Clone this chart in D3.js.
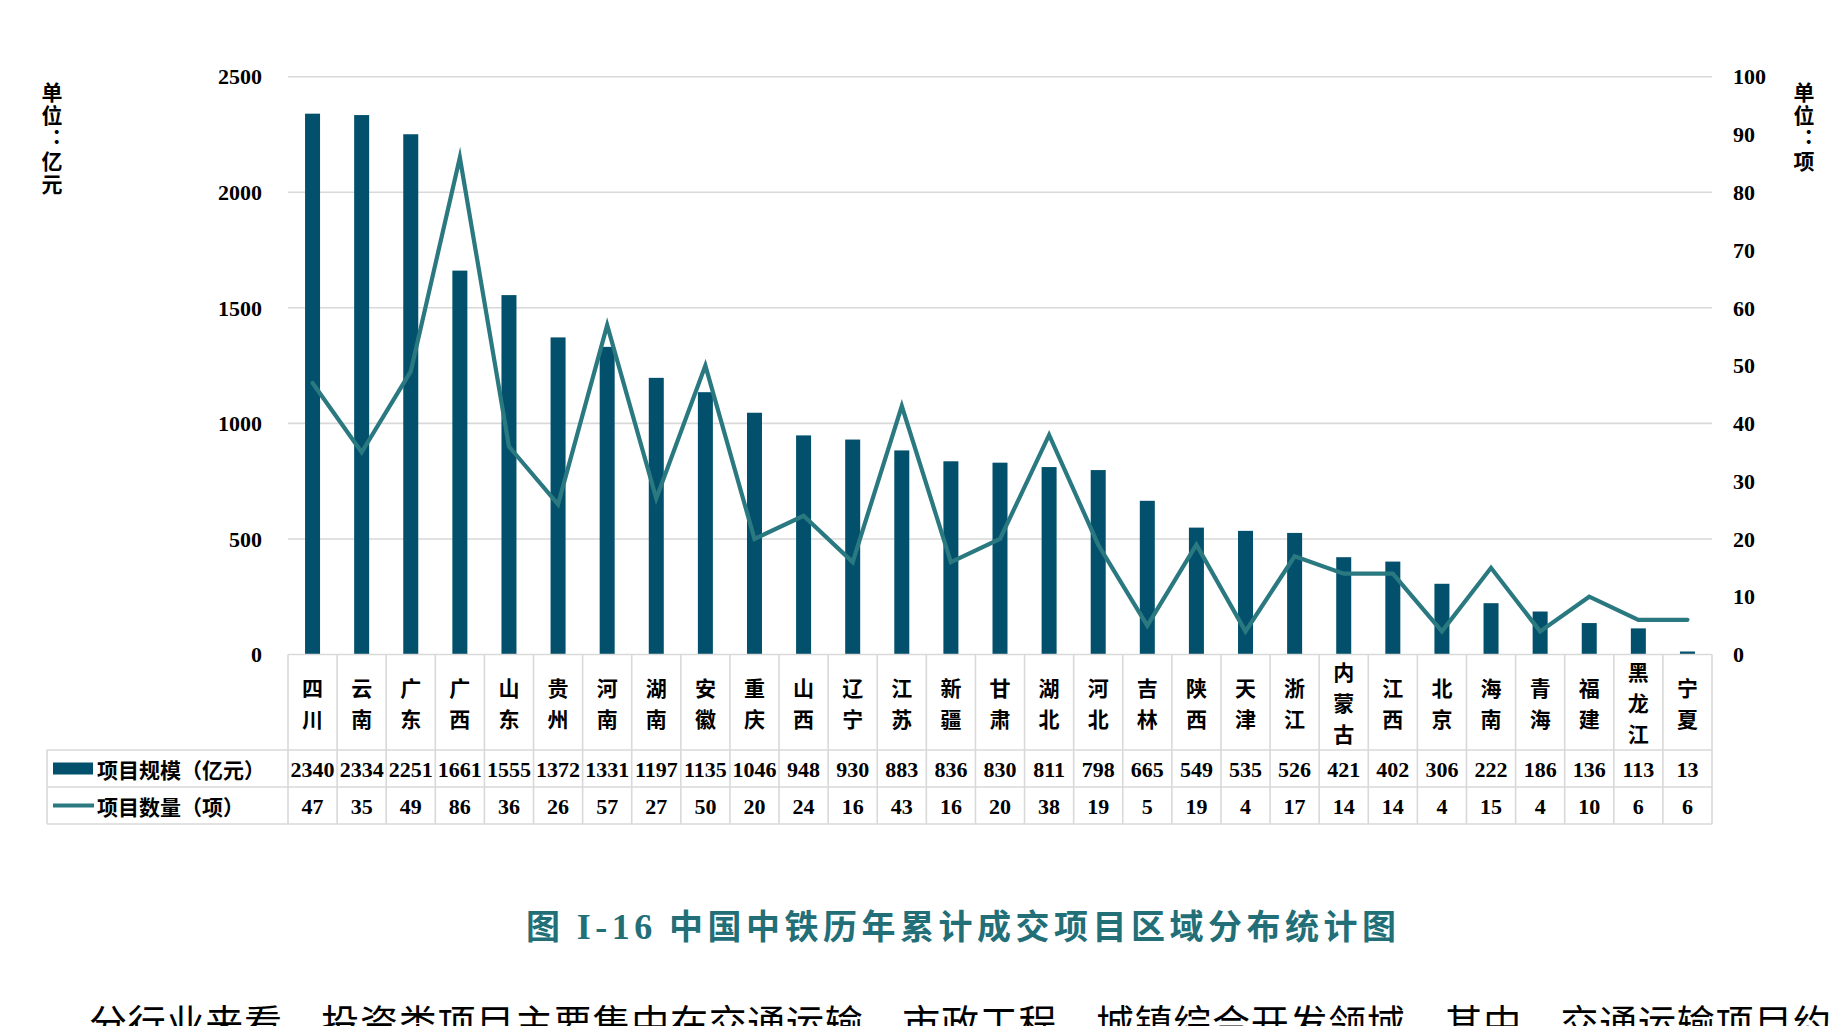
<!DOCTYPE html>
<html>
<head>
<meta charset="utf-8">
<script src="https://cdn.jsdelivr.net/npm/d3@7/dist/d3.min.js"></script>
<style>
  html, body { margin: 0; padding: 0; background: #fff; }
  svg { display: block; }
</style>
</head>
<body>
<svg id="chart" width="1846" height="1026"></svg>
<script>
const categories = ["四川","云南","广东","广西","山东","贵州","河南","湖南","安徽","重庆","山西","辽宁","江苏","新疆","甘肃","湖北","河北","吉林","陕西","天津","浙江","内蒙古","江西","北京","海南","青海","福建","黑龙江","宁夏"];
const scaleValues = [2340,2334,2251,1661,1555,1372,1331,1197,1135,1046,948,930,883,836,830,811,798,665,549,535,526,421,402,306,222,186,136,113,13];
const countValues = [47,35,49,86,36,26,57,27,50,20,24,16,43,16,20,38,19,5,19,4,17,14,14,4,15,4,10,6,6];
const leftTicks = [0,500,1000,1500,2000,2500];
const rightTicks = [0,10,20,30,40,50,60,70,80,90,100];
const seriesNames = ["项目规模（亿元）","项目数量（项）"];
const leftUnit = "单位：亿元";
const rightUnit = "单位：项";
const titleParts = ["图 ", "I-16", " 中国中铁历年累计成交项目区域分布统计图"];
const bodyText = "分行业来看，投资类项目主要集中在交通运输、市政工程、城镇综合开发领域，其中，交通运输项目约";

const barColor = "#02506c";
const lineColor = "#2a7980";
const gridColor = "#d9d9d9";
const cjk = "'Noto Sans CJK SC', sans-serif";
const serif = "'Liberation Serif', 'Times New Roman', serif";

const svg = d3.select("#chart");
const X0 = 288, X1 = 1712, Y0 = 654.5, Y1 = 76.7;

const x = d3.scaleBand().domain(categories).range([X0, X1]).paddingInner(0).paddingOuter(0);
const yL = d3.scaleLinear().domain([0, 2500]).range([Y0, Y1]);
const yR = d3.scaleLinear().domain([0, 100]).range([Y0, Y1]);

// gridlines
svg.append("g").selectAll("line").data(leftTicks.filter(d => d > 0)).join("line")
  .attr("x1", X0).attr("x2", X1)
  .attr("y1", d => yL(d)).attr("y2", d => yL(d))
  .attr("stroke", gridColor).attr("stroke-width", 1.6);

// left axis
const axL = d3.axisLeft(yL).tickValues(leftTicks).tickFormat(d3.format("d")).tickSize(0).tickPadding(0);
const gL = svg.append("g").attr("transform", `translate(262,0)`).call(axL);
gL.select(".domain").remove();
gL.selectAll("text").attr("font-family", serif).attr("font-weight", "bold")
  .attr("font-size", 22).attr("fill", "#000").attr("dy", "0.33em");

// right axis
const axR = d3.axisRight(yR).tickValues(rightTicks).tickFormat(d3.format("d")).tickSize(0).tickPadding(0);
const gR = svg.append("g").attr("transform", `translate(1733,0)`).call(axR);
gR.select(".domain").remove();
gR.selectAll("text").attr("font-family", serif).attr("font-weight", "bold")
  .attr("font-size", 22).attr("fill", "#000").attr("dy", "0.33em");

// unit labels (vertical)
function verticalText(str, cx, y0) {
  svg.append("text").attr("x", cx).attr("y", y0)
    .style("writing-mode", "vertical-rl")
    .attr("font-family", cjk).attr("font-weight", "bold").attr("font-size", 21)
    .attr("letter-spacing", 2)
    .attr("fill", "#000").text(str);
}
verticalText(leftUnit, 52, 82);
verticalText(rightUnit, 1804, 82);

// bars
const bw = 15;
svg.append("g").selectAll("rect").data(categories).join("rect")
  .attr("x", (d) => x(d) + x.bandwidth() / 2 - bw / 2)
  .attr("width", bw)
  .attr("y", (d, i) => yL(scaleValues[i]))
  .attr("height", (d, i) => Y0 - yL(scaleValues[i]))
  .attr("fill", barColor);

// line
const line = d3.line().x((d, i) => x(categories[i]) + x.bandwidth() / 2).y(d => yR(d));
svg.append("path").datum(countValues).attr("d", line)
  .attr("fill", "none").attr("stroke", lineColor).attr("stroke-width", 4.2)
  .attr("stroke-linejoin", "miter").attr("stroke-miterlimit", 10).attr("stroke-linecap", "round");

// table
const T0 = Y0, T1 = 750, T2 = 787, T3 = 824, LX = 47;
const tg = svg.append("g").attr("stroke", gridColor).attr("stroke-width", 1.6);
tg.append("line").attr("x1", X0).attr("x2", X1).attr("y1", T0).attr("y2", T0);
[T1, T2, T3].forEach(yy => tg.append("line").attr("x1", LX).attr("x2", X1).attr("y1", yy).attr("y2", yy));
tg.append("line").attr("x1", LX).attr("x2", LX).attr("y1", T1).attr("y2", T3);
categories.forEach(c => {
  tg.append("line").attr("x1", x(c)).attr("x2", x(c)).attr("y1", T0).attr("y2", T3);
});
tg.append("line").attr("x1", X1).attr("x2", X1).attr("y1", T0).attr("y2", T3);

// category labels
const cg = svg.append("g");
categories.forEach(c => {
  const chars = Array.from(c);
  const pitch = 31;
  const mid = (T0 + T1) / 2;
  const start = mid - (chars.length - 1) * pitch / 2;
  chars.forEach((ch, j) => {
    cg.append("text").attr("x", x(c) + x.bandwidth() / 2).attr("y", start + j * pitch)
      .attr("text-anchor", "middle").attr("dominant-baseline", "central")
      .attr("font-family", cjk).attr("font-weight", "bold").attr("font-size", 21)
      .attr("fill", "#000").text(ch);
  });
});

// data rows
const dg = svg.append("g");
categories.forEach((c, i) => {
  dg.append("text").attr("x", x(c) + x.bandwidth() / 2).attr("y", (T1 + T2) / 2 + 1)
    .attr("text-anchor", "middle").attr("dominant-baseline", "central")
    .attr("font-family", serif).attr("font-weight", "bold").attr("font-size", 22)
    .attr("fill", "#000").text(scaleValues[i]);
  dg.append("text").attr("x", x(c) + x.bandwidth() / 2).attr("y", (T2 + T3) / 2 + 1)
    .attr("text-anchor", "middle").attr("dominant-baseline", "central")
    .attr("font-family", serif).attr("font-weight", "bold").attr("font-size", 22)
    .attr("fill", "#000").text(countValues[i]);
});

// legend
svg.append("rect").attr("x", 53).attr("y", (T1 + T2) / 2 - 6).attr("width", 40).attr("height", 12).attr("fill", barColor);
svg.append("line").attr("x1", 53).attr("x2", 94).attr("y1", (T2 + T3) / 2).attr("y2", (T2 + T3) / 2)
  .attr("stroke", lineColor).attr("stroke-width", 4);
[0, 1].forEach(k => {
  svg.append("text").attr("x", 97).attr("y", k === 0 ? (T1 + T2) / 2 : (T2 + T3) / 2)
    .attr("dominant-baseline", "central")
    .attr("font-family", cjk).attr("font-weight", "bold").attr("font-size", 21)
    .attr("fill", "#000").text(seriesNames[k]);
});

// title
const tt = svg.append("text").attr("x", 526).attr("y", 939)
  .attr("textLength", 870).attr("lengthAdjust", "spacing")
  .attr("font-family", cjk).attr("font-weight", "bold").attr("font-size", 34)
  .attr("fill", "#236f78");
titleParts.forEach((p, i) => {
  const ts = tt.append("tspan").text(p);
  if (i === 1) ts.attr("font-family", serif).attr("font-size", 36);
});

// body text (cut off at bottom, as in the source page)
svg.append("text").attr("x", 89).attr("y", 1037)
  .attr("textLength", 1742).attr("lengthAdjust", "spacing")
  .attr("font-family", cjk).attr("font-size", 38)
  .attr("fill", "#000").text(bodyText);
</script>
</body>
</html>
